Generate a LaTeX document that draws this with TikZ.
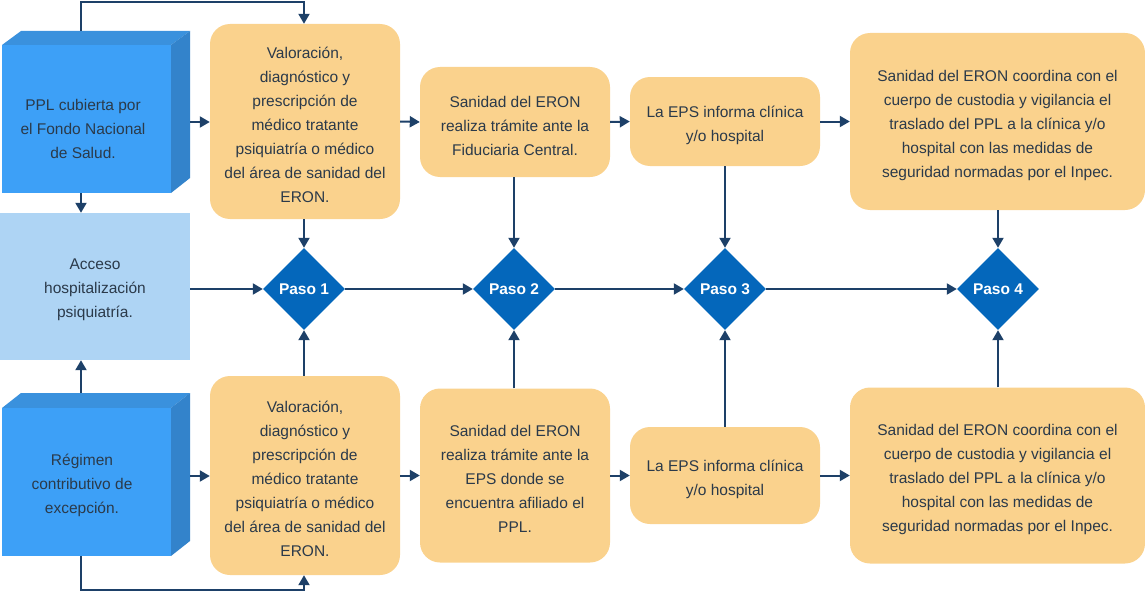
\documentclass[tikz,border=0pt]{standalone}
\usepackage{fontspec}
\setmainfont{Liberation Sans}
\usetikzlibrary{shapes.geometric,arrows.meta}
\definecolor{orangebox}{HTML}{FAD28D}
\definecolor{txtc}{HTML}{2B3A4A}
\definecolor{arrc}{HTML}{1D4068}
\definecolor{diac}{HTML}{0467BB}
\definecolor{bfront}{HTML}{3DA0F7}
\definecolor{btop}{HTML}{3A91DD}
\definecolor{bside}{HTML}{3383CB}
\definecolor{lightb}{HTML}{AED4F4}
\tikzset{
  txt/.style={font=\fontsize{15.5}{24}\selectfont, text=txtc, align=center},
  obox/.style={fill=orangebox, rounded corners=20pt, inner sep=0pt},
  frontbox/.style={fill=bfront, inner sep=0pt, minimum width=169pt, minimum height=148pt},
  lbox/.style={fill=lightb, inner sep=0pt, minimum width=190pt, minimum height=147pt},
  dia/.style={diamond, fill=diac, inner sep=0pt, minimum width=82pt, minimum height=82pt, text=white, font=\fontsize{15.5}{18}\selectfont\bfseries},
  arr/.style={draw=arrc, line width=2pt, -{Triangle[length=10pt,width=11pt]}}
}
\newcommand\obx[5]{%
  \node[obox, minimum width=#3, minimum height=#4] (#1) at #2 {};
  \node[txt] (#1t) at ([yshift=-3.5pt]#1.center) {#5};
}
\begin{document}
\begin{tikzpicture}[x=1pt,y=-1pt]
\useasboundingbox (0,0) rectangle (1145,594);
% 3D blue boxes
\fill[btop] (2,45) -- (21,31) -- (190,31) -- (171,45) -- cycle;
\fill[bside] (171,45) -- (190,31) -- (190,178) -- (171,193) -- cycle;
\node[frontbox] (b1) at (86.5,119) {};
\node[txt] (b1t) at (83,129) {PPL cubierta por\\el Fondo Nacional\\de Salud.};
\fill[btop] (2,408) -- (21,393) -- (190,393) -- (171,408) -- cycle;
\fill[bside] (171,408) -- (190,393) -- (190,541) -- (171,556) -- cycle;
\node[frontbox] (b2) at (86.5,482) {};
\node[txt] (b2t) at (82,485) {Régimen\\contributivo de\\excepción.};
\coordinate (b1top) at (81,31);
\coordinate (b1bot) at (81,193);
\coordinate (b2top) at (81,393);
\coordinate (b2bot) at (81,556);
\coordinate (b1r) at (190,122);
\coordinate (b2r) at (190,476);
\coordinate (lr) at (190,289);
% light box
\node[lbox] (acc) at (95,286.5) {};
\node[txt] (acct) at ([yshift=-3.5pt]acc.center) {Acceso\\hospitalización\\psiquiatría.};
% orange boxes
\obx{v1}{(305,121.5)}{190pt}{195pt}{Valoración,\\diagnóstico y\\prescripción de\\médico tratante\\psiquiatría o médico\\del área de sanidad del\\ERON.}
\obx{s1}{(515,122)}{190pt}{110pt}{Sanidad del ERON\\realiza trámite ante la\\Fiduciaria Central.}
\obx{e1}{(725,121.5)}{190pt}{89pt}{La EPS informa clínica\\y/o hospital}
\obx{c1}{(997.5,121.5)}{295pt}{177pt}{Sanidad del ERON coordina con el\\cuerpo de custodia y vigilancia el\\traslado del PPL a la clínica y/o\\hospital con las medidas de\\seguridad normadas por el Inpec.}
\obx{v2}{(305,475.5)}{190pt}{199pt}{Valoración,\\diagnóstico y\\prescripción de\\médico tratante\\psiquiatría o médico\\del área de sanidad del\\ERON.}
\obx{s2}{(515,475.5)}{190pt}{174pt}{Sanidad del ERON\\realiza trámite ante la\\EPS donde se\\encuentra afiliado el\\PPL.}
\obx{e2}{(725,475.5)}{190pt}{97pt}{La EPS informa clínica\\y/o hospital}
\obx{c2}{(997.5,475.5)}{295pt}{176pt}{Sanidad del ERON coordina con el\\cuerpo de custodia y vigilancia el\\traslado del PPL a la clínica y/o\\hospital con las medidas de\\seguridad normadas por el Inpec.}
% diamonds
\node[dia] (p1) at (304,289) {Paso 1};
\node[dia] (p2) at (514,289) {Paso 2};
\node[dia] (p3) at (725,289) {Paso 3};
\node[dia] (p4) at (998,289) {Paso 4};
% connectors
\draw[arr] (b1top) -- (81,2) -| (v1.north -| p1.north);
\draw[arr] (b2bot) -- (81,590) -| (v2.south -| p1.south);
\draw[arr] (b1bot) -- (acc.north -| b1bot);
\draw[arr] (b2top) -- (acc.south -| b2top);
\draw[arr] (b1r) -- (v1.west |- b1r);
\draw[arr] (b2r) -- (v2.west |- b2r);
\draw[arr] (lr) -- (p1.west);
\draw[arr] (p1.east) -- (p2.west);
\draw[arr] (p2.east) -- (p3.west);
\draw[arr] (p3.east) -- (p4.west);
\draw[arr] (v1.east) -- (s1.west);
\draw[arr] (s1.east) -- (e1.west);
\draw[arr] (e1.east) -- (c1.west);
\draw[arr] (v2.east) -- (s2.west);
\draw[arr] (s2.east) -- (e2.west);
\draw[arr] (e2.east) -- (c2.west);
\draw[arr] (v1.south -| p1.north) -- (p1.north);
\draw[arr] (v2.north -| p1.south) -- (p1.south);
\draw[arr] (s1.south -| p2.north) -- (p2.north);
\draw[arr] (s2.north -| p2.south) -- (p2.south);
\draw[arr] (e1.south -| p3.north) -- (p3.north);
\draw[arr] (e2.north -| p3.south) -- (p3.south);
\draw[arr] (c1.south -| p4.north) -- (p4.north);
\draw[arr] (c2.north -| p4.south) -- (p4.south);
\end{tikzpicture}
\end{document}
